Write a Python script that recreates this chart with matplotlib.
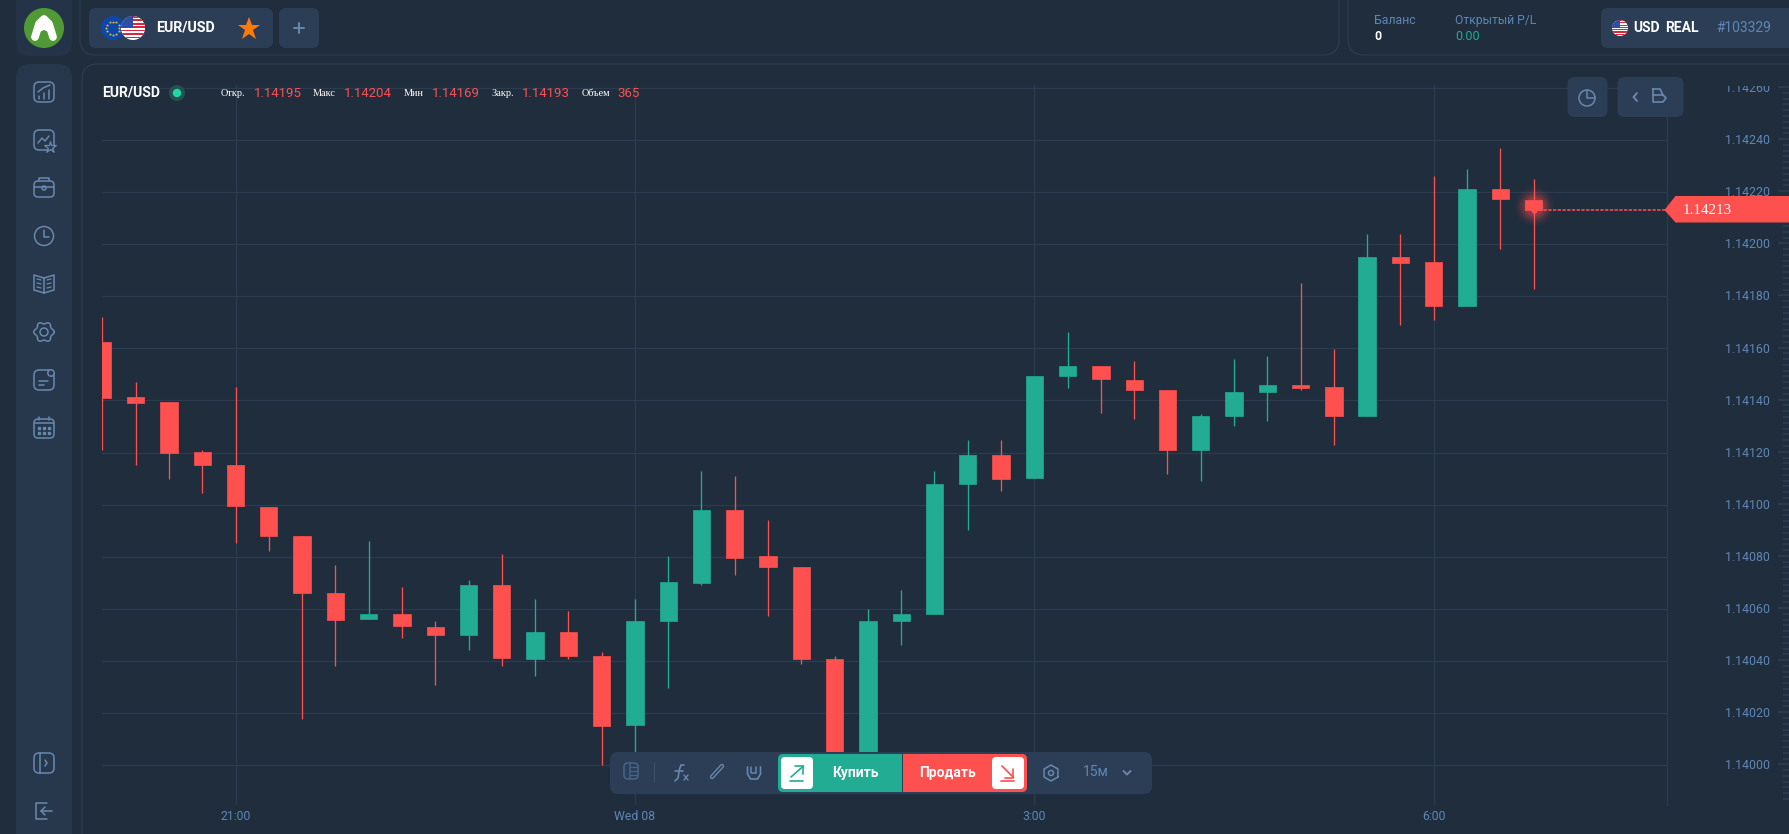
import numpy as np
import matplotlib
matplotlib.use("Agg")
import matplotlib.pyplot as plt
from matplotlib.patches import FancyBboxPatch, Circle, Polygon, Rectangle
from matplotlib.ticker import AutoMinorLocator

plt.rcParams["font.family"] = ["Roboto", "DejaVu Sans"]

# candles, one every 15 minutes
opens = [1.141624, 1.141412, 1.141393, 1.141201, 1.141153, 1.140990, 1.140879, 1.140659, 1.140561, 1.140582, 1.140529,
         1.140500, 1.140692, 1.140409, 1.140510, 1.140418, 1.140155, 1.140552, 1.140701, 1.140980, 1.140802, 1.140760,
         1.140409, 1.139920, 1.140552, 1.140582, 1.141081, 1.141191, 1.141104, 1.141493, 1.141531, 1.141479, 1.141442,
         1.141210, 1.141339, 1.141432, 1.141459, 1.141450, 1.141339, 1.141949, 1.141930, 1.141761, 1.142213, 1.142171]
closes = [1.141411, 1.141392, 1.141200, 1.141153, 1.140993, 1.140879, 1.140659, 1.140556, 1.140582, 1.140533, 1.140500,
          1.140692, 1.140413, 1.140510, 1.140418, 1.140149, 1.140552, 1.140702, 1.140980, 1.140797, 1.140762, 1.140409,
          1.139920, 1.140552, 1.140582, 1.141081, 1.141191, 1.141100, 1.141493, 1.141531, 1.141484, 1.141441, 1.141210,
          1.141339, 1.141432, 1.141461, 1.141449, 1.141339, 1.141949, 1.141929, 1.141761, 1.142213, 1.142174, 1.142131]
highs = [1.141720, 1.141470, 1.141393, 1.141210, 1.141451, 1.140990, 1.140879, 1.140769, 1.140861, 1.140683, 1.140552,
         1.140711, 1.140812, 1.140639, 1.140592, 1.140433, 1.140639, 1.140802, 1.141130, 1.141110, 1.140941, 1.140760,
         1.140419, 1.140600, 1.140673, 1.141130, 1.141249, 1.141249, 1.141493, 1.141662, 1.141531, 1.141552, 1.141442,
         1.141348, 1.141560, 1.141570, 1.141852, 1.141597, 1.142040, 1.142039, 1.142261, 1.142290, 1.142371, 1.142251]
lows = [1.141210, 1.141153, 1.141099, 1.141043, 1.140851, 1.140821, 1.140179, 1.140381, 1.140561, 1.140490, 1.140308,
        1.140442, 1.140381, 1.140343, 1.140409, 1.140002, 1.140000, 1.140298, 1.140693, 1.140730, 1.140573, 1.140390,
        1.139920, 1.139920, 1.140463, 1.140582, 1.140904, 1.141053, 1.141104, 1.141449, 1.141350, 1.141330, 1.141119,
        1.141091, 1.141302, 1.141322, 1.141440, 1.141230, 1.141339, 1.141691, 1.141709, 1.141761, 1.141982, 1.141829]
price_ticks = [1.14000, 1.14020, 1.14040, 1.14060, 1.14080, 1.14100, 1.14120, 1.14140,
               1.14160, 1.14180, 1.14200, 1.14220, 1.14240, 1.14260]
time_ticks = [4, 16, 28, 40]
time_labels = ["21:00", "Wed 08", "3:00", "6:00"]
ohlc_labels = ["Откр.", "Макс", "Мин", "Закр.", "Объем"]
ohlc_values = ["1.14195", "1.14204", "1.14169", "1.14193", "365"]
last_price = 1.14213

BG = "#1f2d3d"
TILE = "#28384c"
TAB = "#2c3e55"
BORDER = "#2a3a4e"
GRID = "#2b3c50"
RED = "#ff5050"
GREEN = "#21ac93"
BLUE = "#5f86b5"
ICON = "#6888ae"
W, H = 1790, 834


def pixel_axes(zorder):
    a = fig.add_axes([0, 0, 1, 1], zorder=zorder)
    a.set_xlim(0, W)
    a.set_ylim(H, 0)
    a.axis("off")
    return a


def rbox(a, x0, y0, x1, y1, r, fc="none", ec="none", lw=0.8):
    p = FancyBboxPatch((x0, y0), x1 - x0, y1 - y0, boxstyle=f"round,pad=0,rounding_size={r}", fc=fc, ec=ec, lw=lw)
    a.add_patch(p)
    return p


def line(a, xs, ys, color=ICON, lw=1.1):
    a.plot(xs, ys, color=color, lw=lw, solid_capstyle="round", solid_joinstyle="round")


def ring(a, x, y, r, color=ICON, lw=1.1, fc="none"):
    a.add_patch(Circle((x, y), r, fc=fc, ec=color, lw=lw))


def sidebar_icons(a):
    x = 44
    # chart
    rbox(a, x - 10, 82, x + 10, 102, 5, ec=ICON, lw=1.1)
    for dx, top in [(-5, 96), (0, 93), (5, 90)]:
        line(a, [x + dx, x + dx], [top, 99])
    line(a, [x - 6, x - 1, x + 6], [92, 88, 85])
    # watchlist
    rbox(a, x - 10, 130, x + 10, 150, 5, ec=ICON, lw=1.1)
    line(a, [x - 6, x - 2, x + 1, x + 5], [143, 138, 141, 136])
    a.plot([x + 6], [147], marker="*", ms=9, mfc=TILE, mec=ICON, mew=0.9)
    # case
    rbox(a, x - 10, 181, x + 10, 197, 4, ec=ICON, lw=1.1)
    line(a, [x - 5, x - 5, x + 5, x + 5], [181, 178, 178, 181])
    line(a, [x - 10, x + 10], [187, 187])
    ring(a, x, 188, 2, fc=TILE)
    # clock
    ring(a, x, 236, 9.5)
    line(a, [x, x, x + 5], [230, 237, 237])
    # book
    line(a, [x, x - 10, x - 10, x, x + 10, x + 10, x], [278, 275, 290, 293, 290, 275, 278])
    line(a, [x, x], [278, 293])
    for dy in (0, 4, 8):
        line(a, [x - 7, x - 3], [279 + dy, 280 + dy], lw=0.9)
        line(a, [x + 3, x + 7], [280 + dy, 279 + dy], lw=0.9)
    # gear
    t = np.linspace(0, 2 * np.pi, 120)
    r = 9.2 + 1.1 * np.cos(6 * t)
    line(a, x + r * np.cos(t), 332 + r * np.sin(t))
    ring(a, x, 332, 4)
    # news
    rbox(a, x - 10, 370, x + 10, 390, 5, ec=ICON, lw=1.1)
    ring(a, x + 7, 373, 3.2, fc=TILE)
    line(a, [x - 5, x + 4], [381, 381])
    line(a, [x - 5, x], [385, 385])
    # calendar
    rbox(a, x - 10, 419, x + 10, 438, 4, ec=ICON, lw=1.1)
    line(a, [x - 10, x + 10], [423, 423])
    for dx in (-5, 5):
        line(a, [x + dx, x + dx], [417, 420])
    for dx in (-5, 0, 5):
        for yy in (428, 433):
            a.plot([x + dx], [yy], marker="s", ms=1.5, color=ICON)
    # collapse
    rbox(a, x - 10, 753, x + 10, 773, 5, ec=ICON, lw=1.1)
    line(a, [x - 4, x - 4], [753, 773])
    line(a, [x + 1, x + 3, x + 1], [760, 763, 766])
    # logout
    line(a, [x + 3, x - 8, x - 8, x + 3], [803, 803, 819, 819])
    line(a, [x + 8, x - 3], [811, 811])
    line(a, [x + 1, x - 3, x + 1], [807, 811, 815])


def flag_us(a, x, y, r):
    c = Circle((x, y), r, fc="white", ec="none")
    a.add_patch(c)
    n = 7
    for i in range(n):
        b = Rectangle((x - r, y - r + i * 2 * r / n), 2 * r, r / n, fc="#d8273d", ec="none")
        a.add_patch(b)
        b.set_clip_path(c)
    k = Rectangle((x - r, y - r), r, r, fc="#2b4fa8", ec="none")
    a.add_patch(k)
    k.set_clip_path(c)


fig = plt.figure(figsize=(17.9, 8.34), dpi=100, facecolor=BG)

# panels behind the chart
bg = pixel_axes(0)
rbox(bg, 16, -20, 72, 56, 14, fc="#243347")
rbox(bg, 16, 64, 72, 850, 14, fc=TILE)
rbox(bg, 80, -20, 1339, 55, 16, ec=BORDER, lw=1)
rbox(bg, 1348, -20, 1830, 55, 16, ec=BORDER, lw=1)
rbox(bg, 82, 64, 1830, 860, 16, ec=BORDER, lw=1)

# candles
ax = fig.add_axes([102.5 / W, 1 - 805 / H, (1666.7 - 102.5) / W, 720 / H], zorder=1)
ax.patch.set_alpha(0)
idx = np.arange(len(opens))
o, c, h, l = map(np.array, (opens, closes, highs, lows))
colors = np.where(c >= o, GREEN, RED)
ax.grid(True, color=GRID, lw=0.9)
ax.set_axisbelow(True)
ax.vlines(idx, l, h, colors=colors, lw=0.95, zorder=3)
ax.bar(idx, np.abs(c - o), bottom=np.minimum(o, c), width=0.52, color=colors, edgecolor=colors, lw=0.5,
       joinstyle="round", zorder=4)
for s, a_ in zip((200, 320, 460, 620, 820), (0.22, 0.16, 0.11, 0.07, 0.04)):
    ax.scatter([idx[-1]], [c[-1] + 0.000015], s=s, color=RED, alpha=a_, lw=0, zorder=2)
ax.plot([idx[-1]], [c[-1]], marker="o", ms=3.5, color=RED, zorder=5)
ax.hlines(last_price, idx[-1], 47.1, colors=RED, lw=1.1, linestyles=(0, (2.2, 0.9)), zorder=3)
ax.set_xlim(0.003, 47.0)
ax.set_ylim(1.139847, 1.142611)
ax.set_yticks(price_ticks)
ax.set_xticks(time_ticks, time_labels)
ax.tick_params(axis="x", length=0, pad=3.8, labelsize=8.8, labelcolor=BLUE)
ax.tick_params(axis="y", length=0, labelleft=False)
for s in ax.spines.values():
    s.set_visible(False)
ax.spines["right"].set_visible(True)
ax.spines["right"].set_color(GRID)
ax.spines["right"].set_linewidth(0.9)

# price scale on the right
sc = fig.add_axes([1667 / W, 1 - 800 / H, (W - 1667) / W, 720 / H], zorder=1)
sc.patch.set_alpha(0)
sc.set_xlim(0, 1)
sc.set_ylim(1.139863, 1.142627)
sc.set_yticks(price_ticks, [f"{p:.5f}" for p in price_ticks])
sc.yaxis.set_minor_locator(AutoMinorLocator(9))
sc.set_xticks([])
sc.tick_params(axis="y", which="major", direction="in", left=False, right=True, labelleft=True, labelright=False,
               length=8.6, width=1.3, color=GRID, pad=-74, labelsize=8.9, labelcolor=BLUE)
sc.tick_params(axis="y", which="minor", direction="in", left=False, right=True, length=5, width=1.3, color=GRID)
for s in sc.spines.values():
    s.set_visible(False)

# everything on top of the chart
fg = pixel_axes(2)
fg.add_patch(Rectangle((1690, 66), 100, 19.5, fc=BG, ec="none"))
sidebar_icons(fg)

# logo
fg.add_patch(Circle((44, 28), 20, fc="#4f9a35", ec="none"))
line(fg, [35, 39, 44, 49, 53], [37, 24, 19, 24, 37], color="white", lw=5.6)
fg.add_patch(Polygon([[37, 33], [44, 24], [51, 33], [44, 30]], fc="white", ec="none"))
fg.add_patch(Circle((44, 22), 3, fc="#4f9a35", ec="none"))

# tabs
rbox(fg, 89, 8, 273, 48, 7, fc=TAB)
rbox(fg, 279, 8, 319, 48, 7, fc=TAB)
fg.add_patch(Circle((113, 28), 12, fc="#0f47a8", ec="none"))
for ang in np.arange(0, 360, 30):
    fg.plot([113 + 6.5 * np.cos(np.radians(ang))], [28 + 6.5 * np.sin(np.radians(ang))], marker="*", ms=2.4,
            color="#e8c02c", mew=0)
flag_us(fg, 133, 28, 12)
fg.text(156.5, 27.5, "EUR/USD", color="white", fontsize=10.2, fontweight="bold", va="center", ha="left")
fg.plot([249], [28.5], marker="*", ms=17, color="#ff7a0a", mew=0)
line(fg, [294, 304], [28, 28], lw=1.4)
line(fg, [299, 299], [23, 33], lw=1.4)

# chart header
fg.text(102.5, 92.5, "EUR/USD", color="white", fontsize=10.1, fontweight="bold", va="center", ha="left")
fg.add_patch(Circle((177, 93), 8, fc="#25514f", ec="none"))
fg.add_patch(Circle((177, 93), 4.2, fc="#1fd7a5", ec="none"))
label_x = [220.5, 312.5, 403.5, 491.5, 581.5]
value_x = [253.5, 343.5, 431.5, 521.5, 617.5]
for lx, vx, name, val in zip(label_x, value_x, ohlc_labels, ohlc_values):
    fg.text(lx, 93, name, color="white", fontsize=7.4, family="Liberation Serif", va="center", ha="left")
    fg.text(vx, 93, val, color=RED, fontsize=9.5, va="center", ha="left")

# account box
fg.text(1374.5, 20, "Баланс", color=BLUE, fontsize=8.8, va="center", ha="left")
fg.text(1374.5, 36, "0", color="white", fontsize=8.8, fontweight="bold", va="center", ha="left")
fg.text(1455.5, 20, "Открытый P/L", color=BLUE, fontsize=8.7, va="center", ha="left")
fg.text(1455.5, 36, "0.00", color=GREEN, fontsize=9, va="center", ha="left")
rbox(fg, 1601, 8, 1830, 48, 7, fc=TAB)
flag_us(fg, 1620, 28, 8)
fg.text(1633.5, 28, "USD", color="white", fontsize=10, fontweight="bold", va="center", ha="left")
fg.text(1665.5, 28, "REAL", color="white", fontsize=10, fontweight="bold", va="center", ha="left")
fg.text(1716, 28, "#103329", color=BLUE, fontsize=10, va="center", ha="left")

# chart buttons
rbox(fg, 1567.5, 77, 1607.5, 117, 7, fc=TAB)
rbox(fg, 1617.5, 77, 1683.5, 117, 7, fc=TAB)
ring(fg, 1587, 98, 8)
line(fg, [1587, 1587, 1595], [90, 98, 98])
line(fg, [1637, 1633.5, 1637], [93, 97, 101], lw=1.4)
line(fg, [1653, 1660, 1663, 1666, 1663, 1653, 1653], [89, 89, 95, 98, 102, 102, 89], lw=1.2)
line(fg, [1653, 1663], [95, 95], lw=1.2)

# price tag
fg.add_patch(Polygon([[1664.5, 210], [1675.5, 196], [1790, 196], [1790, 222.5], [1675.5, 222.5]], fc=RED, ec="none"))
fg.text(1682.5, 210, "1.14213", color="white", fontsize=10.8, family="Liberation Serif", va="center", ha="left")

# bottom toolbar
rbox(fg, 610, 752, 1152, 794, 8, fc=TAB)
rbox(fg, 778, 754, 860, 792, 5, fc=GREEN)
fg.add_patch(Rectangle((840, 754), 62, 38, fc=GREEN, ec="none"))
rbox(fg, 945, 754, 1027, 792, 5, fc=RED)
fg.add_patch(Rectangle((903, 754), 62, 38, fc=RED, ec="none"))
rbox(fg, 781, 757, 813, 789, 4, fc="white")
rbox(fg, 992, 757, 1024, 789, 4, fc="white")
line(fg, [791, 803.5], [777, 766], color=GREEN, lw=1.2)
line(fg, [795, 803.5, 803.5], [766, 766, 774], color=GREEN, lw=1.2)
line(fg, [790, 803.5], [780.5, 780.5], color=GREEN, lw=1.2)
line(fg, [1002, 1013.5], [766, 777.5], color=RED, lw=1.2)
line(fg, [1013.5, 1013.5, 1005], [769, 777.5, 777.5], color=RED, lw=1.2)
line(fg, [1001, 1014], [781, 781], color=RED, lw=1.2)
fg.text(855.5, 772.5, "Купить", color="white", fontsize=10, fontweight="bold", va="center", ha="center")
fg.text(948, 772.5, "Продать", color="white", fontsize=10, fontweight="bold", va="center", ha="center")
# left tools
rbox(fg, 624, 763, 638, 779, 4, ec="#46648a", lw=1.1)
line(fg, [630, 630], [763, 779], color="#46648a")
for yy in (767, 771, 775):
    line(fg, [631, 637], [yy, yy], color="#46648a", lw=0.9)
line(fg, [654, 654], [762, 782], color="#3b5069", lw=0.8)
line(fg, [684, 681, 679.5, 678, 675], [765, 765, 769, 778, 781], lw=1.2)
line(fg, [675, 683], [771, 771], lw=1.2)
line(fg, [684, 688], [775, 780], lw=1)
line(fg, [688, 684], [775, 780], lw=1)
line(fg, [712, 722], [777, 766], lw=3.2)
line(fg, [712, 722], [777, 766], color=TAB, lw=1.2)
line(fg, [747.5, 747.5, 750.5, 757.5, 760.5, 760.5], [767, 774, 779, 779, 774, 767], lw=1.2)
line(fg, [751.5, 751.5, 756.5, 756.5], [767, 773, 773, 767], lw=1.1)
t_hex = np.radians(np.arange(30, 391, 60))
line(fg, 1051 + 8 * np.cos(t_hex), 773 + 8 * np.sin(t_hex), lw=1.1)
ring(fg, 1051, 773, 2.5)
fg.text(1096, 772, "15м", color=BLUE, fontsize=10, va="center", ha="center")
line(fg, [1123.5, 1127, 1130.5], [771, 774.5, 771], lw=1.4)

fig.savefig("out.png", dpi=100, facecolor=BG)
